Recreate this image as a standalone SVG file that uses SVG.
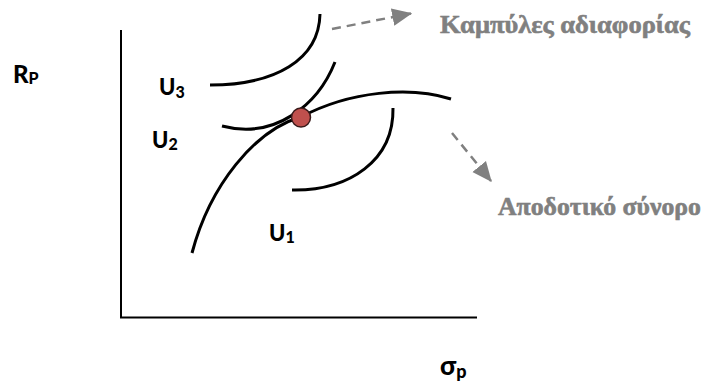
<svg xmlns="http://www.w3.org/2000/svg" width="709" height="383" viewBox="0 0 709 383">
<style>
.axis{stroke:#000;stroke-width:2;fill:none}
.curve{stroke:#000;stroke-width:3;fill:none;stroke-linecap:butt}
.dash{stroke:#808080;stroke-width:2.5;fill:none;stroke-dasharray:9,6}
.lbl{font-family:Lato,"Open Sans","Liberation Sans",sans-serif;font-weight:900;fill:#000}
.gr{font-family:"Liberation Serif","Times New Roman",serif;font-weight:bold;fill:#808080;stroke:#808080;stroke-width:0.6;font-size:26px}
</style>
<defs>
<marker id="ah" markerUnits="userSpaceOnUse" markerWidth="20" markerHeight="20" viewBox="0 0 16 14" refX="15" refY="7" orient="auto">
<path d="M0,0 L16,7 L0,14 Z" fill="#808080"/>
</marker>
</defs>
<g id="axes">
<line class="axis" x1="121" y1="30" x2="121" y2="318"/>
<line class="axis" x1="120" y1="317.5" x2="477" y2="317.5"/>
</g>
<g id="U3-curve"><path class="curve" d="M320,14 C319,60 275,85 210,85"/></g>
<g id="U2-curve"><path class="curve" d="M335,62 C318,105 275,140 222,126"/></g>
<g id="frontier"><path class="curve" d="M192,253 C210,185 255,130 301,117 C350,91 410,86 451,99"/></g>
<g id="U1-curve"><path class="curve" d="M393,108 C394,160 350,191 292,190"/></g>
<g id="optimum"><circle cx="301" cy="117.5" r="9.5" fill="#c0504d" stroke="#3a1a1a" stroke-width="1.5"/></g>
<g id="connectors">
<line class="dash" x1="332" y1="29" x2="411" y2="13.5" marker-end="url(#ah)"/>
<line class="dash" x1="452" y1="133" x2="491" y2="181" marker-end="url(#ah)"/>
</g>
<g id="labels">
<text class="lbl" x="13" y="83" font-size="24">R<tspan font-size="16" dy="1">P</tspan></text>
<text class="lbl" x="159" y="95" font-size="22">U<tspan font-size="16" dy="3">3</tspan></text>
<text class="lbl" x="152" y="148" font-size="22">U<tspan font-size="16" dy="2">2</tspan></text>
<text class="lbl" x="269" y="241" font-size="22">U<tspan font-size="16" dy="2">1</tspan></text>
<text class="lbl" x="440" y="375" font-size="26">σ<tspan font-size="18" dy="3">p</tspan></text>
<text class="gr" x="440" y="33" textLength="250" lengthAdjust="spacingAndGlyphs">Καμπύλες αδιαφορίας</text>
<text class="gr" x="498" y="215" textLength="203" lengthAdjust="spacingAndGlyphs">Αποδοτικό σύνορο</text>
</g>
</svg>
